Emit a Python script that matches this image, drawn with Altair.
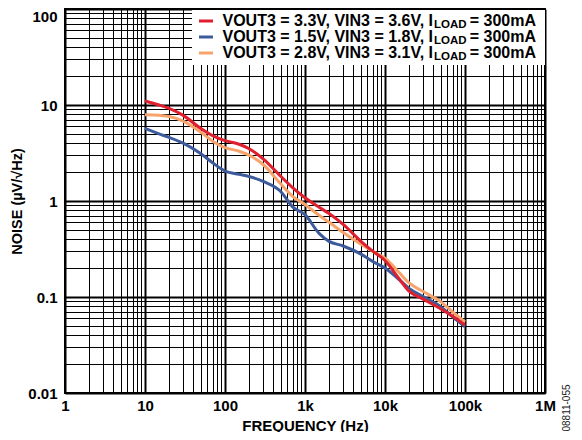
import altair as alt
import pandas as pd

# ---- data ----
freq = [10, 15, 20, 30, 50, 70, 100, 150, 200, 300, 500, 700, 1000, 1500, 2000,
        3000, 5000, 7000, 10000, 15000, 20000, 30000, 50000, 70000, 100000]
noise_33 = [11.0, 10.0, 9.2, 7.8, 5.7, 4.8, 4.25, 3.9, 3.5, 2.75, 1.8, 1.38, 1.08, 0.86, 0.74,
            0.57, 0.38, 0.30, 0.24, 0.155, 0.115, 0.095, 0.075, 0.063, 0.051]
noise_15 = [5.7, 5.0, 4.6, 4.0, 3.1, 2.5, 2.05, 1.9, 1.8, 1.6, 1.25, 0.87, 0.72, 0.46, 0.38,
            0.34, 0.28, 0.235, 0.20, 0.152, 0.123, 0.101, 0.079, 0.062, 0.049]
noise_28 = [7.9, 7.8, 7.6, 6.8, 5.2, 4.2, 3.6, 3.3, 3.0, 2.4, 1.5, 1.12, 0.92, 0.71, 0.6,
            0.47, 0.355, 0.30, 0.253, 0.18, 0.14, 0.114, 0.089, 0.070, 0.055]

series_names = ["VOUT3 = 3.3V", "VOUT3 = 1.5V", "VOUT3 = 2.8V"]
series_colors = ["#df1f2d", "#3d5b9b", "#f7a46c"]
legend_main = ["VOUT3 = 3.3V, VIN3 = 3.6V, I",
               "VOUT3 = 1.5V, VIN3 = 1.8V, I",
               "VOUT3 = 2.8V, VIN3 = 3.1V, I"]
legend_sub = "LOAD"
legend_tail = "= 300mA"

x_ticks = [m * 10 ** k for k in range(0, 6) for m in range(1, 10)] + [10 ** 6]
y_ticks = [round(m * 10.0 ** k, 6) for k in range(-2, 2) for m in range(1, 10)] + [100]

FONT = "Liberation Sans"

rows = []
draw_order = [1, 2, 0]  # blue, orange, red on top
all_vals = [noise_33, noise_15, noise_28]
for i in draw_order:
    for f, v in zip(freq, all_vals[i]):
        rows.append({"freq": f, "noise": v, "series": series_names[i]})
df = pd.DataFrame(rows)

major = "abs(log(datum.value)/LN10 - round(log(datum.value)/LN10)) < 0.001"

x_label_expr = ("datum.value == 1 ? '1' : datum.value == 10 ? '10' : datum.value == 100 ? '100' : "
                "datum.value == 1000 ? '1k' : datum.value == 10000 ? '10k' : "
                "datum.value == 100000 ? '100k' : datum.value == 1000000 ? '1M' : ''")
y_label_expr = ("abs(datum.value - 0.01) < 1e-9 ? '0.01' : abs(datum.value - 0.1) < 1e-9 ? '0.1' : "
                "datum.value == 1 ? '1' : datum.value == 10 ? '10' : datum.value == 100 ? '100' : ''")

grid_width = {"condition": {"test": major, "value": 2}, "value": 1}

x_enc = alt.X(
    "freq:Q",
    scale=alt.Scale(type="log", domain=[1, 1e6], nice=False),
    axis=alt.Axis(values=x_ticks, grid=True, gridColor="black", gridOpacity=1,
                  gridWidth=grid_width, ticks=False, domain=False,
                  labelExpr=x_label_expr, labelFlush=False, labelOverlap=False,
                  labelPadding=5, labelFontSize=15, title="FREQUENCY (Hz)",
                  titleY=37, titleBaseline="alphabetic", titleFontSize=15),
)
y_enc = alt.Y(
    "noise:Q",
    scale=alt.Scale(type="log", domain=[0.01, 100], nice=False),
    axis=alt.Axis(values=y_ticks, grid=True, gridColor="black", gridOpacity=1,
                  gridWidth=grid_width, ticks=False, domain=False,
                  labelExpr=y_label_expr, labelFlush=False, labelOverlap=False,
                  labelBaseline={"condition": {"test": "datum.value == 100", "value": "top"},
                                 "value": "middle"},
                  labelPadding=8, labelFontSize=15, title="NOISE (µV/√Hz)",
                  titlePadding=3, titleFontSize=14.5),
)

lines = alt.Chart(df).mark_line(strokeWidth=3, interpolate="monotone").encode(
    x=x_enc, y=y_enc,
    color=alt.Color("series:N", scale=alt.Scale(domain=series_names, range=series_colors),
                    legend=None),
)


def one():
    return alt.Chart(alt.Data(values=[{"a": 1}]))


layers = [lines]
layers.append(one().mark_rect(fill="white").encode(
    x=alt.value(127), x2=alt.value(480), y=alt.value(1), y2=alt.value(56)))

for i in range(3):
    yy = 12 + 16 * i
    layers.append(one().mark_rule(color=series_colors[i], strokeWidth=3).encode(
        x=alt.value(134), x2=alt.value(148), y=alt.value(yy)))
    layers.append(one().mark_text(text=legend_main[i], align="right", baseline="middle",
                                  font=FONT, fontWeight="bold", fontSize=16, color="black").encode(
        x=alt.value(368), y=alt.value(yy)))
    layers.append(one().mark_text(text=legend_sub, align="left", baseline="middle",
                                  font=FONT, fontWeight="bold", fontSize=11.5, color="black").encode(
        x=alt.value(369), y=alt.value(yy + 4)))
    layers.append(one().mark_text(text=legend_tail, align="right", baseline="middle",
                                  font=FONT, fontWeight="bold", fontSize=16, color="black").encode(
        x=alt.value(471), y=alt.value(yy)))

layers.append(one().mark_text(text="08811-055", angle=270, align="center", baseline="middle",
                              font=FONT, fontSize=10, color="#222222").encode(
    x=alt.value(502), y=alt.value(399)))

chart = alt.layer(*layers).properties(
    width=480, height=384,
    padding={"left": 57, "top": 1, "right": 29, "bottom": 39},
    autosize="none",
).configure_view(stroke="black", strokeWidth=2).configure_axis(
    labelFont=FONT, labelFontWeight="bold", labelColor="black",
    titleFont=FONT, titleFontWeight="bold", titleColor="black",
)

chart.save("out.html", embed_options={"renderer": "svg", "actions": False})
